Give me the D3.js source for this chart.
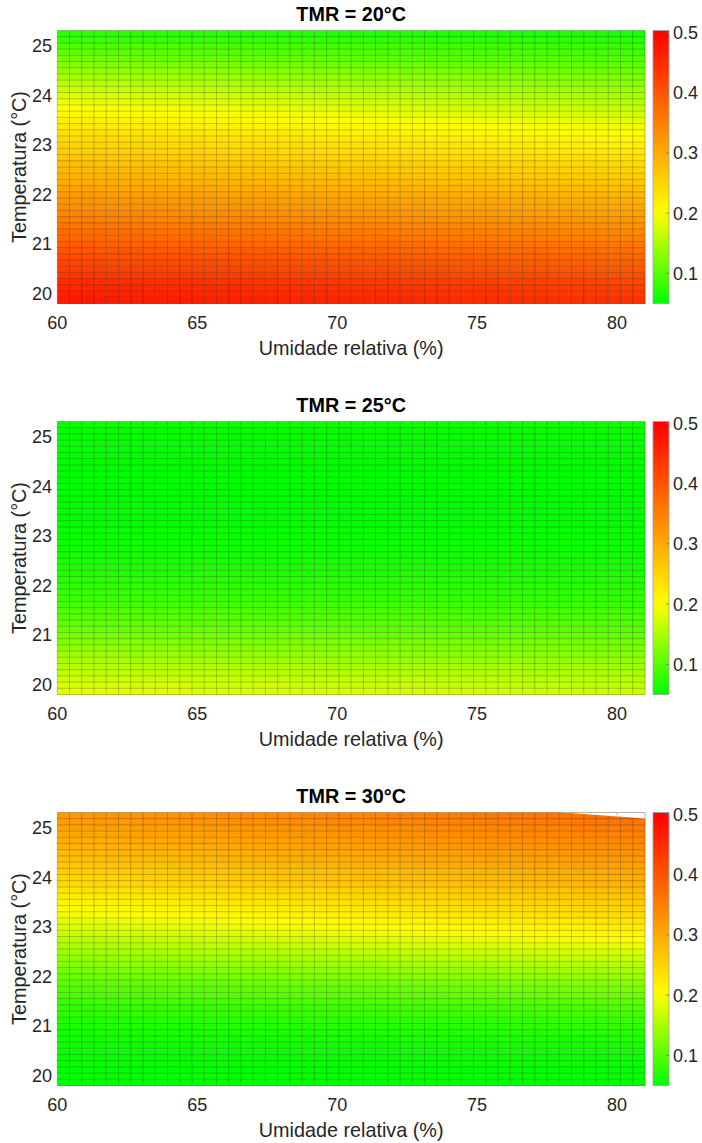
<!DOCTYPE html>
<html>
<head>
<meta charset="utf-8">
<script src="https://cdn.jsdelivr.net/npm/d3@7"></script>
<style>
  html, body { margin: 0; padding: 0; background: #fff; }
  svg { display: block; font-family: "Liberation Sans", Arial, Helvetica, sans-serif; }
</style>
</head>
<body>
<svg id="chart" width="702" height="1143"></svg>
<script>
// Panel titles (mean radiant temperature)
const panelTitles = ["TMR = 20°C", "TMR = 25°C", "TMR = 30°C"];

// Sample rows (air temperature, °C) and columns (relative humidity, %)
const temperatureRows = [19.8, 20.3, 20.8, 21.3, 21.8, 22.3, 22.8, 23.3, 23.8, 24.3, 24.8, 25.3];
const humidityCols = [60, 70.5, 81];

// Values per row: [RH 60, RH 70.5, RH 81]
const valuesTmr20 = [
  [0.478, 0.462, 0.445],
  [0.443, 0.427, 0.410],
  [0.406, 0.390, 0.373],
  [0.368, 0.351, 0.334],
  [0.331, 0.314, 0.297],
  [0.296, 0.279, 0.262],
  [0.264, 0.246, 0.229],
  [0.232, 0.213, 0.195],
  [0.195, 0.177, 0.160],
  [0.154, 0.139, 0.125],
  [0.111, 0.101, 0.092],
  [0.071, 0.067, 0.063]
];
const valuesTmr25 = [
  [0.188, 0.180, 0.172],
  [0.160, 0.152, 0.145],
  [0.130, 0.124, 0.118],
  [0.104, 0.099, 0.095],
  [0.084, 0.080, 0.077],
  [0.069, 0.067, 0.065],
  [0.059, 0.058, 0.057],
  [0.053, 0.052, 0.052],
  [0.050, 0.050, 0.050],
  [0.050, 0.050, 0.051],
  [0.052, 0.053, 0.054],
  [0.056, 0.057, 0.059]
];
const valuesTmr30 = [
  [0.050, 0.050, 0.050],
  [0.053, 0.054, 0.056],
  [0.061, 0.065, 0.070],
  [0.076, 0.084, 0.092],
  [0.100, 0.112, 0.125],
  [0.129, 0.145, 0.161],
  [0.162, 0.184, 0.206],
  [0.197, 0.222, 0.247],
  [0.236, 0.261, 0.286],
  [0.269, 0.294, 0.318],
  [0.298, 0.322, 0.346],
  [0.323, 0.348, 0.372]
];
const panelValues = [valuesTmr20, valuesTmr25, valuesTmr30];

// Upper edge of the drawn surface in the third panel (RH, T)
const surfaceCut30 = [[78.1, 25.3], [81, 25.18]];

// Axis ticks
const rhTicks = [60, 65, 70, 75, 80];
const tempTicks = [20, 21, 22, 23, 24, 25];
const colorTicks = [0.1, 0.2, 0.3, 0.4, 0.5];

// Mesh resolution of the surface
const rhCells = 48, tempCells = 44;
const rhDomain = [60, 81], tempDomain = [19.8, 25.3];
const colorDomain = [0.05, 0.503];

const svg = d3.select("#chart");
const axisColor = "#262626";
const plot = { left: 57.3, right: 645, top: 30.5, bottom: 303.5 };
const cbar = { left: 653, right: 669 };
const panelStep = 391;

const x = d3.scaleLinear().domain(rhDomain).range([plot.left, plot.right]);
const color = d3.scaleLinear()
  .domain([0.05, 0.2, 0.5])
  .range(["#00ff00", "#ffff00", "#ff0000"])
  .clamp(true);

const rhNodes = d3.range(rhCells + 1).map(i => rhDomain[0] + i * (rhDomain[1] - rhDomain[0]) / rhCells);
const tempNodes = d3.range(tempCells + 1).map(j => tempDomain[0] + j * (tempDomain[1] - tempDomain[0]) / tempCells);

// Bilinear lookup in a sampled table
function sample(table, rh, t) {
  const bi = (arr, v) => {
    let i = d3.bisectRight(arr, v) - 1;
    i = Math.max(0, Math.min(arr.length - 2, i));
    const f = (v - arr[i]) / (arr[i + 1] - arr[i]);
    return [i, Math.max(0, Math.min(1, f))];
  };
  const [r, fr] = bi(temperatureRows, t);
  const [c, fc] = bi(humidityCols, rh);
  const a = table[r][c] * (1 - fc) + table[r][c + 1] * fc;
  const b = table[r + 1][c] * (1 - fc) + table[r + 1][c + 1] * fc;
  return a * (1 - fr) + b * fr;
}

panelValues.forEach((table, p) => {
  const off = p * panelStep;
  const g = svg.append("g").attr("transform", `translate(0,${off})`);
  const y = d3.scaleLinear().domain(tempDomain).range([plot.bottom, plot.top]);

  // Surface cells
  const cells = [];
  for (let j = 0; j < tempCells; j++) {
    for (let i = 0; i < rhCells; i++) {
      const rh = (rhNodes[i] + rhNodes[i + 1]) / 2;
      const t = (tempNodes[j] + tempNodes[j + 1]) / 2;
      cells.push({ i, j, v: sample(table, rh, t) });
    }
  }
  g.append("g").selectAll("rect").data(cells).join("rect")
    .attr("x", d => x(rhNodes[d.i]))
    .attr("y", d => y(tempNodes[d.j + 1]))
    .attr("width", d => x(rhNodes[d.i + 1]) - x(rhNodes[d.i]) + 0.3)
    .attr("height", d => y(tempNodes[d.j]) - y(tempNodes[d.j + 1]) + 0.3)
    .attr("fill", d => color(d.v));

  // Mesh edges
  const mesh = g.append("g").attr("stroke", "rgba(0,0,0,0.28)").attr("stroke-width", 0.8);
  mesh.selectAll("line.v").data(rhNodes).join("line").attr("class", "v")
    .attr("x1", d => x(d)).attr("x2", d => x(d))
    .attr("y1", plot.top).attr("y2", plot.bottom);
  mesh.selectAll("line.h").data(tempNodes).join("line").attr("class", "h")
    .attr("x1", plot.left).attr("x2", plot.right)
    .attr("y1", d => y(d)).attr("y2", d => y(d));

  if (p === 2) {
    const [a, b] = surfaceCut30;
    g.append("path")
      .attr("d", d3.line()([[x(a[0]), y(a[1]) - 1], [x(a[0]), y(a[1])], [x(b[0]), y(b[1])], [x(b[0]) + 1, y(b[1])], [x(b[0]) + 1, y(a[1]) - 1]]))
      .attr("fill", "#fff");
    g.append("line").attr("x1", x(a[0])).attr("x2", plot.right)
      .attr("y1", plot.top).attr("y2", plot.top).attr("stroke", "#b0b0b0").attr("stroke-width", 1);
    g.append("line").attr("x1", plot.right).attr("x2", plot.right)
      .attr("y1", plot.top).attr("y2", y(b[1])).attr("stroke", "#b0b0b0").attr("stroke-width", 1);
    g.append("line").attr("x1", x(80)).attr("x2", x(80))
      .attr("y1", plot.top).attr("y2", plot.top + 3).attr("stroke", "#b0b0b0").attr("stroke-width", 1);
  }

  // X tick labels
  g.append("g").selectAll("text").data(rhTicks).join("text")
    .attr("x", d => x(d)).attr("y", 328.5)
    .attr("text-anchor", "middle").attr("font-size", 18).attr("fill", axisColor)
    .text(d => d);
  // Y tick labels
  g.append("g").selectAll("text").data(tempTicks).join("text")
    .attr("x", 52).attr("y", d => y(d) + 6.5)
    .attr("text-anchor", "end").attr("font-size", 18).attr("fill", axisColor)
    .text(d => d);

  // Title and axis labels
  g.append("text").attr("x", (plot.left + plot.right) / 2).attr("y", 20.5)
    .attr("text-anchor", "middle").attr("font-size", 19.8).attr("font-weight", "bold").attr("fill", "#000")
    .text(panelTitles[p]);
  g.append("text").attr("x", (plot.left + plot.right) / 2).attr("y", 355)
    .attr("text-anchor", "middle").attr("font-size", 19.8).attr("fill", axisColor)
    .text("Umidade relativa (%)");
  g.append("text")
    .attr("transform", `translate(26,${(plot.top + plot.bottom) / 2}) rotate(-90)`)
    .attr("text-anchor", "middle").attr("font-size", 19.8).attr("fill", axisColor)
    .text("Temperatura (°C)");

  // Colorbar
  const cy = d3.scaleLinear().domain(colorDomain).range([plot.bottom, plot.top]);
  const gradId = `cb${p}`;
  const grad = svg.append("defs").append("linearGradient").attr("id", gradId)
    .attr("x1", 0).attr("x2", 0).attr("y1", 1).attr("y2", 0);
  const stops = d3.range(0, 1.0001, 0.05).map(f => colorDomain[0] + f * (colorDomain[1] - colorDomain[0]));
  grad.selectAll("stop").data(stops).join("stop")
    .attr("offset", (d, k) => k / (stops.length - 1))
    .attr("stop-color", d => color(d));
  g.append("rect").attr("x", cbar.left).attr("y", plot.top)
    .attr("width", cbar.right - cbar.left).attr("height", plot.bottom - plot.top)
    .attr("fill", `url(#${gradId})`).attr("stroke", "#a0a0a0").attr("stroke-width", 0.8);
  g.append("g").selectAll("line").data(colorTicks).join("line")
    .attr("x1", cbar.right - 3).attr("x2", cbar.right)
    .attr("y1", d => cy(d)).attr("y2", d => cy(d))
    .attr("stroke", "#707070").attr("stroke-width", 0.8);
  g.append("g").selectAll("text").data(colorTicks).join("text")
    .attr("x", 673).attr("y", d => cy(d) + 6.5)
    .attr("font-size", 18).attr("fill", axisColor)
    .text(d => d3.format(".1f")(d));
});
</script>
</body>
</html>
